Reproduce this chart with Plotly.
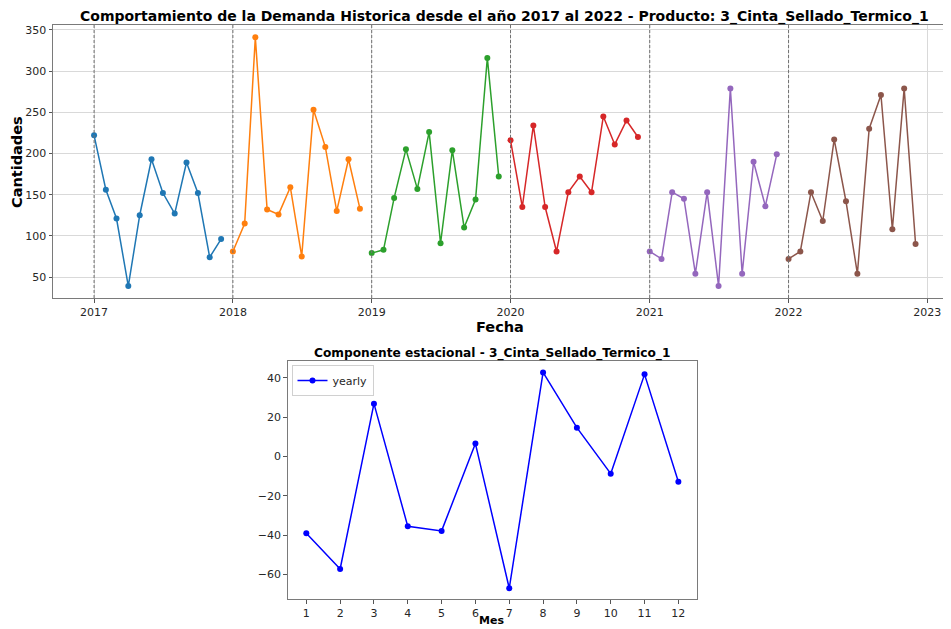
import plotly.graph_objects as go
import pandas as pd

# ---------------- data ----------------
years = [2017, 2018, 2019, 2020, 2021, 2022]
demand_2017 = [222, 156, 121, 39, 125, 193, 152, 127, 189, 152, 74, 96]
demand_2018 = [81, 115, 341, 132, 126, 159, 75, 253, 208, 130, 193, 133]
demand_2019 = [79, 83, 146, 205, 157, 226, 91, 204, 110, 144, 316, 172]
demand_2020 = [216, 135, 234, 135, 81, 153, 172, 153, 245, 211, 240, 220]
demand_2021 = [81, 72, 153, 145, 54, 153, 39, 279, 54, 190, 136, 199]
demand_2022 = [72, 81, 153, 118, 217, 142, 54, 230, 271, 108, 279, 90]
demand_by_year = [demand_2017, demand_2018, demand_2019, demand_2020, demand_2021, demand_2022]
year_colors = ["#1f77b4", "#ff7f0e", "#2ca02c", "#d62728", "#9467bd", "#8c564b"]
year_ticks = ["2017", "2018", "2019", "2020", "2021", "2022", "2023"]

months = [1, 2, 3, 4, 5, 6, 7, 8, 9, 10, 11, 12]
yearly_component = [-39.1, -57.3, 26.8, -35.6, -37.9, 6.5, -67.1, 42.7, 14.6, -8.8, 41.7, -12.9]

# window size and body offset of the page
WIN_W, WIN_H = 951, 629
OFF = 8
W, H = WIN_W - OFF, WIN_H - OFF
FONT = "DejaVu Sans"
TXT = "#262626"


def px(x):
    return (x - OFF) / W


def py(y):
    return 1 - (y - OFF) / H


fig = go.Figure()

for yr, vals, col in zip(years, demand_by_year, year_colors):
    dates = pd.date_range(f"{yr}-01-01", periods=12, freq="MS")
    fig.add_trace(go.Scatter(
        x=dates, y=vals, mode="lines+markers",
        line=dict(color=col, width=1.5),
        marker=dict(color=col, size=6),
        showlegend=False, xaxis="x", yaxis="y"))

fig.add_trace(go.Scatter(
    x=months, y=yearly_component, mode="lines+markers", name="yearly",
    line=dict(color="#0000ff", width=1.5),
    marker=dict(color="#0000ff", size=6),
    showlegend=True, xaxis="x2", yaxis="y2"))

# dashed vertical lines at each year start
for yr in years:
    fig.add_shape(type="line", xref="x", yref="y domain",
                  x0=f"{yr}-01-01", x1=f"{yr}-01-01", y0=0, y1=1,
                  line=dict(color="#707070", width=1, dash="3px,2px"), layer="above")

x1d = [px(53), px(946)]
y1d = [py(298), py(25)]
x2d = [px(287.7), px(697.3)]
y2d = [py(599.3), py(361)]

axis_common = dict(showline=True, linecolor="#7a7a7a", linewidth=1, mirror=True,
                   ticks="outside", ticklen=3.5, tickcolor="#555",
                   tickfont=dict(family=FONT, size=11, color=TXT), zeroline=False)

fig.update_layout(
    width=W, height=H,
    margin=dict(l=0, r=0, t=0, b=0, autoexpand=False),
    paper_bgcolor="white", plot_bgcolor="white",
    xaxis=dict(domain=x1d, anchor="y", type="date",
               range=["2016-09-15", "2023-02-19"],
               tickvals=[f"{t}-01-01" for t in year_ticks], ticktext=year_ticks,
               showgrid=True, gridcolor="#d9d9d9", gridwidth=1, **axis_common),
    yaxis=dict(domain=y1d, anchor="x", range=[24.5, 356],
               tickvals=[50, 100, 150, 200, 250, 300, 350],
               showgrid=True, gridcolor="#d9d9d9", gridwidth=1, **axis_common),
    xaxis2=dict(domain=x2d, anchor="y2", range=[0.45, 12.56],
                tickvals=months, showgrid=False, **axis_common),
    yaxis2=dict(domain=y2d, anchor="x2", range=[-72.7, 48.5],
                tickvals=[-60, -40, -20, 0, 20, 40],
                ticktext=["\u221260", "\u221240", "\u221220", "0", "20", "40"],
                showgrid=False, **axis_common),
    legend=dict(x=px(291.5), y=py(365), xanchor="left", yanchor="top",
                bgcolor="rgba(255,255,255,0.8)", bordercolor="#d0d0d0", borderwidth=1,
                font=dict(family=FONT, size=11, color=TXT), itemwidth=30,
                tracegroupgap=0),
    showlegend=True,
)

ann = [
    dict(text="<b>Comportamiento de la Demanda Historica desde el año 2017 al 2022 - Producto: 3_Cinta_Sellado_Termico_1</b>",
         x=px(505), y=py(17), size=14),
    dict(text="<b>Fecha</b>", x=px(500), y=py(327), size=14.5),
    dict(text="<b>Componente estacional - 3_Cinta_Sellado_Termico_1</b>",
         x=px(492), y=py(353), size=12.2),
    dict(text="<b>Mes</b>", x=px(492), y=py(620), size=11),
]
for a in ann:
    fig.add_annotation(text=a["text"], x=a["x"], y=a["y"], xref="paper", yref="paper",
                       showarrow=False, xanchor="center", yanchor="middle",
                       font=dict(family=FONT, size=a["size"], color="black"))
fig.add_annotation(text="<b>Cantidades</b>", x=px(17), y=py(162), xref="paper", yref="paper",
                   showarrow=False, textangle=-90, xanchor="center", yanchor="middle",
                   font=dict(family=FONT, size=14.5, color="black"))

fig.write_html("out.html")
